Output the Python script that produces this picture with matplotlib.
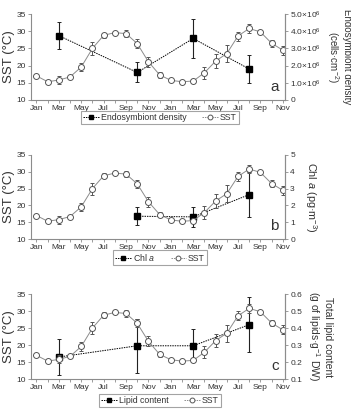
import numpy as np
import matplotlib.pyplot as plt
from matplotlib.lines import Line2D

plt.rcParams['font.family'] = ['Liberation Sans Narrow', 'Liberation Sans', 'DejaVu Sans']
plt.rcParams['mathtext.fontset'] = 'custom'
plt.rcParams['mathtext.rm'] = 'Liberation Sans'
plt.rcParams['mathtext.it'] = 'Liberation Sans:italic'

months = ["Jan", "Feb", "Mar", "Apr", "May", "Jun", "Jul", "Aug", "Sep", "Oct", "Nov", "Dec"] * 2
month_idx = np.arange(23)

sst = [17.0, 15.3, 15.8, 16.7, 19.6, 25.0, 28.8, 29.6, 29.3, 26.4, 21.1, 17.3,
       15.7, 15.3, 15.5, 17.9, 21.3, 23.5, 28.6, 30.8, 29.8, 26.5, 24.5]
sst_err = [0.3, 0.3, 1.2, 0.3, 1.2, 1.8, 0.8, 0.5, 1.0, 1.2, 1.5, 0.8,
           0.3, 0.3, 0.6, 1.8, 2.0, 2.5, 1.3, 1.3, 0.5, 1.0, 1.3]

# panel a
dens_x = [2, 9, 14, 19]
dens = [3.74e6, 1.60e6, 3.58e6, 1.80e6]
dens_err = [0.80e6, 0.58e6, 1.16e6, 0.80e6]

# panel b
chl_x = [9, 14, 19]
chl = [1.36, 1.32, 2.64]
chl_err = [0.52, 0.58, 1.35]

# panel c
lip_x = [2, 9, 14, 19]
lip = [0.23, 0.296, 0.296, 0.42]
lip_err = [0.105, 0.16, 0.097, 0.16]

gray = "#8c8c8c"
txt = "#333333"

fig = plt.figure(figsize=(3.51, 4.13), dpi=100)

panels = [
    dict(rect=[0.088, 0.758, 0.724, 0.208], x=dens_x, y=dens, e=dens_err,
         ylim=(0, 5e6), yt=[0, 1e6, 2e6, 3e6, 4e6, 5e6],
         ytl=["0", r"1.0×10$^6$", r"2.0×10$^6$", r"3.0×10$^6$", r"4.0×10$^6$", r"5.0×10$^6$"],
         ylabel="Endosymbiont density\n(cells·cm$^{-2}$)", lab="a", pad=3, fs=7.0,
         leg="Endosymbiont density", legy=0.688),
    dict(rect=[0.088, 0.421, 0.724, 0.204], x=chl_x, y=chl, e=chl_err,
         ylim=(0, 5), yt=[0, 1, 2, 3, 4, 5], ytl=["0", "1", "2", "3", "4", "5"],
         ylabel="Chl $a$ (pg·m$^{-3}$)", lab="b", pad=6, fs=7.8, leg="Chl $a$", legy=0.348),
    dict(rect=[0.088, 0.082, 0.724, 0.206], x=lip_x, y=lip, e=lip_err,
         ylim=(0.1, 0.6), yt=[0.1, 0.2, 0.3, 0.4, 0.5, 0.6],
         ytl=["0.1", "0.2", "0.3", "0.4", "0.5", "0.6"],
         ylabel="Total lipid content\n(g of lipids·g$^{-1}$ DW)", lab="c", pad=3, fs=7.5,
         leg="Lipid content", legy=0.004),
]

for p in panels:
    ax = fig.add_axes(p["rect"])
    ax2 = ax.twinx()
    ax.set_zorder(ax2.get_zorder() + 1)
    ax.patch.set_visible(False)

    ax.errorbar(month_idx, sst, yerr=sst_err, color=gray, lw=0.7, ecolor="#555555",
                elinewidth=0.7, capsize=1.3, capthick=0.7, marker="o", ms=4.3,
                mfc="white", mec="#555555", mew=0.7)
    eb = ax2.errorbar(p["x"], p["y"], yerr=p["e"], color="black", lw=0.7, ls=(0, (1.5, 1)),
                      ecolor="#222222", elinewidth=0.8, capsize=1.3, capthick=0.7,
                      marker="s", ms=4.3, mfc="black", mec="black")
    eb[-1][0].set_linestyle("-")

    ax.set_xlim(-0.5, 22.2)
    ax.set_ylim(10, 35)
    ax.set_yticks([10, 15, 20, 25, 30, 35])
    ax.set_xticks(np.arange(0, 23, 2))
    ax.set_xticklabels(months[0:23:2])
    ax.set_xticks(np.arange(23), minor=True)
    ax.set_ylabel("SST (°C)", fontsize=9.5, color=txt, labelpad=1)

    ax2.set_ylim(*p["ylim"])
    ax2.set_yticks(p["yt"])
    ax2.set_yticklabels(p["ytl"])
    ax2.set_ylabel(p["ylabel"], fontsize=p["fs"], color=txt, rotation=270, va="bottom",
                   labelpad=p["pad"], linespacing=1.1)

    for a in (ax, ax2):
        a.spines["top"].set_visible(False)
        for s in ("left", "right", "bottom"):
            a.spines[s].set_color(gray)
            a.spines[s].set_linewidth(0.8)
        a.tick_params(axis="both", which="both", direction="out", length=2.5, width=0.6,
                      color=gray, labelsize=6, labelcolor=txt, pad=1.2)
    ax2.spines["left"].set_visible(False)
    ax2.spines["bottom"].set_visible(False)

    ax.text(0.975, 0.07, p["lab"], transform=ax.transAxes, ha="right", va="bottom",
            fontsize=11, color=txt)

    h1 = Line2D([], [], color="black", lw=0.7, ls=(0, (1.5, 1)), marker="s", ms=3.5,
                mfc="black", mec="black")
    h2 = Line2D([], [], color=gray, lw=0.7, ls=(0, (1.5, 1)), marker="o", ms=3.5,
                mfc="white", mec="#555555", mew=0.7)
    leg = fig.legend([h1, h2], [p["leg"], "SST"], loc="lower center",
                     bbox_to_anchor=(0.456, p["legy"]), ncol=2, fontsize=6.3,
                     frameon=True, fancybox=False, edgecolor=gray, handlelength=1.8,
                     handletextpad=0.2, columnspacing=1.8, borderpad=0.25, labelcolor=txt)
    leg.get_frame().set_linewidth(0.8)

fig.savefig("out.png", dpi=100)
